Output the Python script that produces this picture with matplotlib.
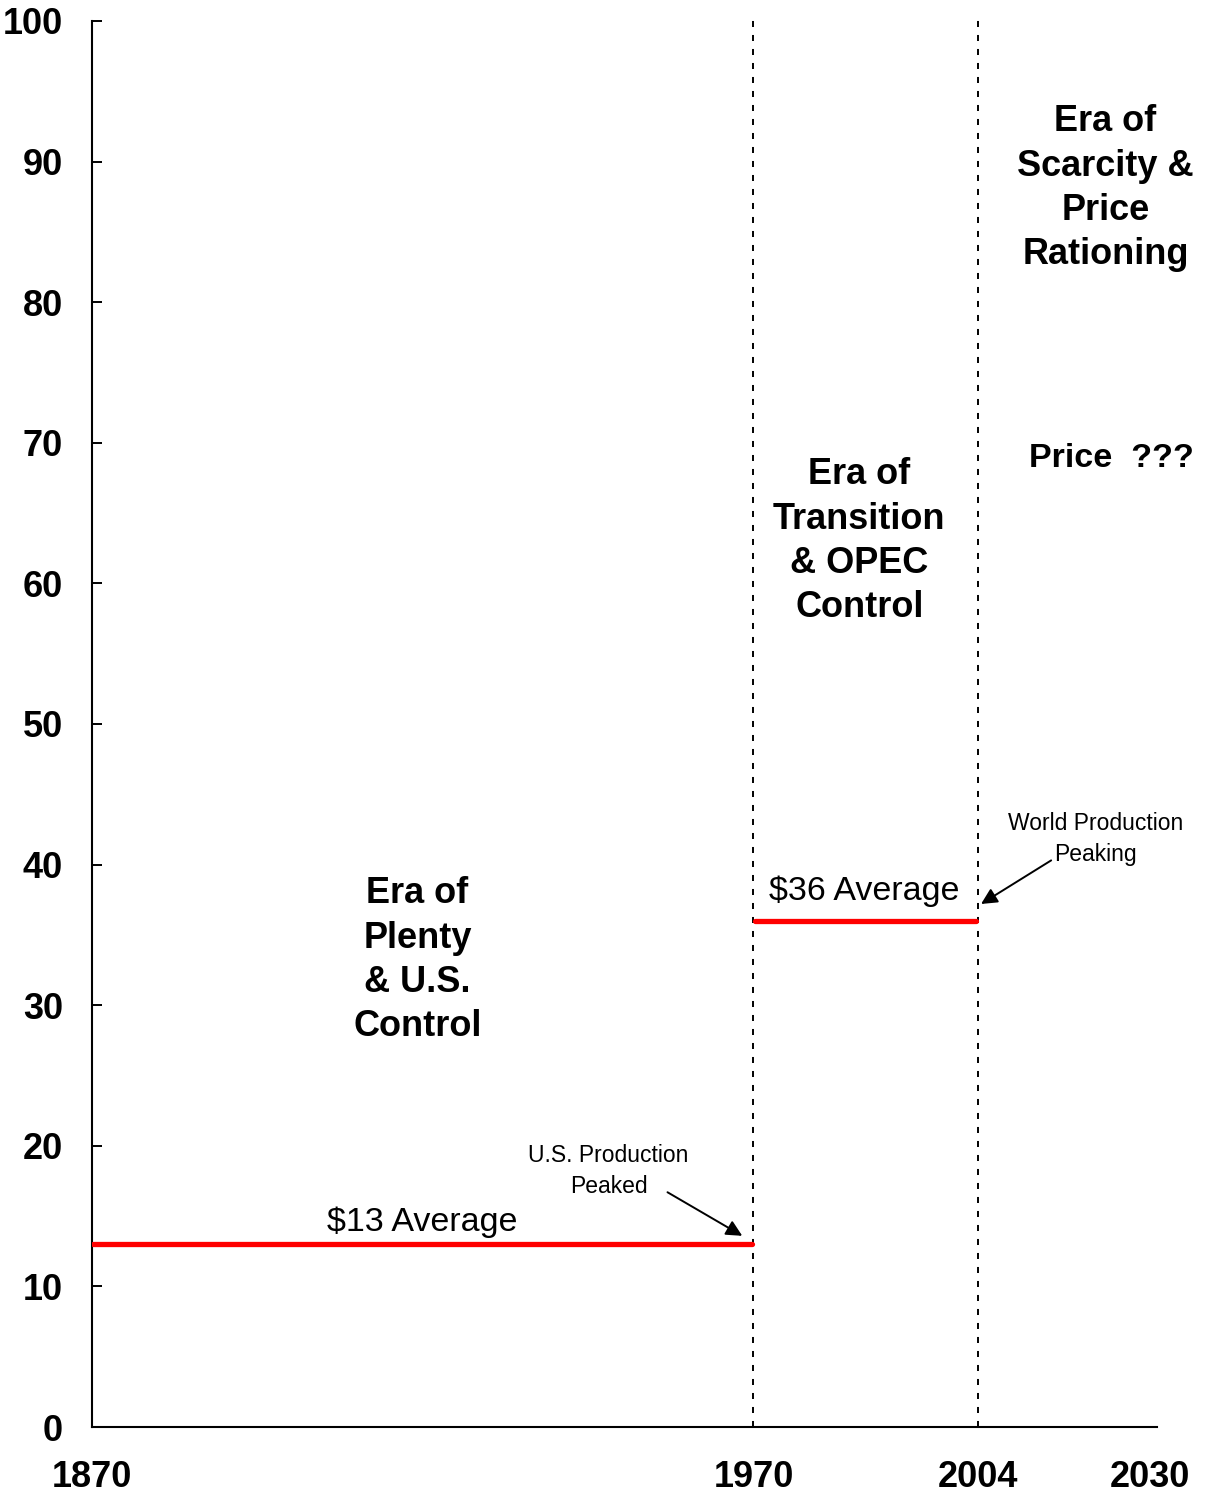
import matplotlib
matplotlib.use('Agg')
import matplotlib.pyplot as plt

plt.rcParams['font.family'] = ['Liberation Sans', 'DejaVu Sans']

# ── datos ──
year_ticks = [1870, 1970, 2004, 2030]
price_ticks = [0, 10, 20, 30, 40, 50, 60, 70, 80, 90, 100]
period_start = [1870, 1970]
period_end = [1970, 2004]
period_avg = [13, 36]
avg_labels = ["$13 Average", "$36 Average"]
avg_label_x = [1920.0, 1986.8]
avg_label_y = [14.6, 38.1]
era_breaks = [1970, 2004]

era_texts = ["Era of\nPlenty\n& U.S.\nControl",
             "Era of\nTransition\n& OPEC\nControl",
             "Era of\nScarcity &\nPrice\nRationing"]
era_x = [1919.2, 1986.0, 2023.2]
era_y = [33.2, 63.0, 88.1]

notes = ["U.S. Production\nPeaked", "World Production\nPeaking"]
note_x = [1948.1, 2021.7]
note_y = [18.2, 41.8]
arrow_tail = [(1957.0, 16.7), (2015.0, 40.3)]
arrow_tip = [(1968.3, 13.6), (2004.4, 37.2)]

fig = plt.figure(figsize=(12.17, 14.94), dpi=100)
ax = fig.add_axes([0.0756, 0.0448, 0.8751, 0.9412])
ax.set_xlim(1870, 2031)
ax.set_ylim(0, 100)

# ── lineas de cambio de era ──
ax.vlines(era_breaks, 0, 100.3, colors='black', linewidth=1.4,
          linestyles=(0, (3.1, 4.1)), clip_on=False, zorder=2)

# ── promedios ──
for x0, x1, avg in zip(period_start, period_end, period_avg):
    ax.plot([x0 + 0.2, x1 - 0.3], [avg, avg], color='#ff0000', linewidth=3.8,
            solid_capstyle='round', zorder=3)
for lab, x, y in zip(avg_labels, avg_label_x, avg_label_y):
    ax.text(x, y, lab, fontsize=24.5, ha='center', va='center')

# ── textos de eras ──
for txt, x, y in zip(era_texts, era_x, era_y):
    ax.text(x, y, txt, fontsize=26, fontweight='bold', ha='center',
            va='center', linespacing=1.34)

ax.text(2024.1, 68.9, "Price  ???", fontsize=24.5, fontweight='bold',
        ha='center', va='center')

# ── anotaciones ──
for txt, x, y in zip(notes, note_x, note_y):
    ax.text(x, y, txt, fontsize=16.5, ha='center', va='center',
            linespacing=1.45)
for tail, tip in zip(arrow_tail, arrow_tip):
    ax.annotate("", xy=tip, xytext=tail,
                arrowprops=dict(arrowstyle='-|>', color='black', lw=1.4,
                                mutation_scale=24, shrinkA=0, shrinkB=0))

# ── ejes ──
for side in ['top', 'right']:
    ax.spines[side].set_visible(False)
for side in ['left', 'bottom']:
    ax.spines[side].set_linewidth(1.5)

ax.set_yticks(price_ticks)
ax.set_xticks(year_ticks)
ax.set_xticklabels([str(y) for y in year_ticks])
ax.tick_params(axis='y', direction='in', length=7.5, width=1.4, pad=21,
               labelsize=26)
ax.tick_params(axis='x', length=0, pad=24, labelsize=26)
for lab in ax.get_xticklabels() + ax.get_yticklabels():
    lab.set_fontweight('bold')

fig.savefig('out.png', dpi=100, facecolor='white')
